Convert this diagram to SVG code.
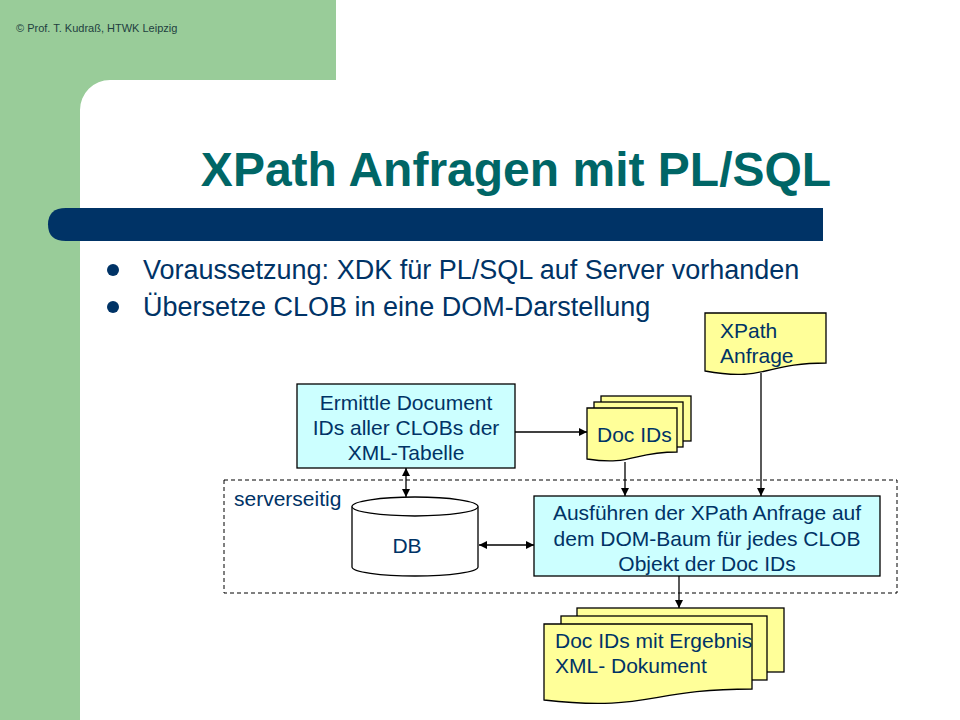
<svg xmlns="http://www.w3.org/2000/svg" width="960" height="720" viewBox="0 0 960 720">
<style>
.t{font-family:"Liberation Sans",Arial,sans-serif;fill:#003366}
.s{font-size:21px}
.box{fill:#ccffff;stroke:#000;stroke-width:1.3}
.doc{fill:#ffff99;stroke:#000;stroke-width:1.3}
.ln{stroke:#000;stroke-width:1.3;fill:none}
</style>
<defs>
<marker id="ah" viewBox="0 0 10 10" refX="10" refY="5" markerWidth="8" markerHeight="8" markerUnits="userSpaceOnUse" orient="auto-start-reverse"><path d="M0,0 L10,5 L0,10 Z" fill="#000"/></marker>
</defs>
<rect width="960" height="720" fill="#fff"/>
<path d="M0,0 H336 V80 H110 A30,30 0 0 0 80,110 V720 H0 Z" fill="#99cc99"/>
<text class="t" x="16" y="32" font-size="11" style="fill:#1f3f3f">© Prof. T. Kudraß, HTWK Leipzig</text>
<text class="t" x="516" y="186" font-size="48" font-weight="bold" text-anchor="middle" style="fill:#006666">XPath Anfragen mit PL/SQL</text>
<path d="M66,208 H823 V241 H66 Q48,241 48,224.5 Q48,208 66,208 Z" fill="#003366"/>
<circle cx="113" cy="270" r="6" fill="#003366"/>
<circle cx="113" cy="307" r="6" fill="#003366"/>
<text class="t" x="143" y="279" font-size="27">Voraussetzung: XDK für PL/SQL auf Server vorhanden</text>
<text class="t" x="143" y="316" font-size="27">Übersetze CLOB in eine DOM-Darstellung</text>

<g id="serverseitig">
<rect x="224" y="480" width="673" height="113" fill="none" stroke="#000" stroke-width="1" stroke-dasharray="4,3"/>
<text class="t s" x="234" y="506">serverseitig</text>
</g>

<g id="xpath-anfrage">
<path class="doc" d="M705,313 H826 V363 C765,363 765,382 705,371 Z"/>
<text class="t s" x="720" y="338">XPath</text>
<text class="t s" x="720" y="363">Anfrage</text>
</g>

<g id="ermittle">
<rect class="box" x="297" y="384" width="218" height="84"/>
<text class="t s" x="406" y="410" text-anchor="middle">Ermittle Document</text>
<text class="t s" x="406" y="435" text-anchor="middle">IDs aller CLOBs der</text>
<text class="t s" x="406" y="460" text-anchor="middle">XML-Tabelle</text>
</g>

<g id="doc-ids">
<rect class="doc" x="601" y="396" width="90" height="45"/>
<rect class="doc" x="594" y="402" width="89" height="45"/>
<path class="doc" d="M587,408 H677 V452 C632,452 632,466 587,459 Z"/>
<text class="t s" x="597" y="442">Doc IDs</text>
</g>

<g id="db">
<path d="M352,506.5 V567 A63,9 0 0 0 478,567 V506.5" fill="#fff" stroke="#000" stroke-width="1.3"/>
<ellipse cx="415" cy="506.5" rx="63" ry="9.5" fill="#fff" stroke="#000" stroke-width="1.3"/>
<text class="t s" x="407" y="553" text-anchor="middle">DB</text>
</g>

<g id="ausfuehren">
<rect class="box" x="534" y="496" width="346" height="80"/>
<text class="t s" x="707" y="520" text-anchor="middle">Ausführen der XPath Anfrage auf</text>
<text class="t s" x="707" y="546" text-anchor="middle">dem DOM-Baum für jedes CLOB</text>
<text class="t s" x="707" y="571" text-anchor="middle">Objekt der Doc IDs</text>
</g>

<g id="ergebnis">
<rect class="doc" x="577" y="608" width="207" height="64"/>
<rect class="doc" x="561" y="616" width="206" height="64"/>
<path class="doc" d="M544,624 H752 V689 C648,689 648,712 544,700 Z"/>
<text class="t s" x="555" y="648">Doc IDs mit Ergebnis</text>
<text class="t s" x="555" y="673">XML- Dokument</text>
</g>

<g id="connectors">
<line class="ln" x1="515" y1="432" x2="587" y2="432" marker-end="url(#ah)"/>
<line class="ln" x1="406" y1="468" x2="406" y2="497" marker-start="url(#ah)" marker-end="url(#ah)"/>
<line class="ln" x1="625" y1="462" x2="625" y2="496" marker-end="url(#ah)"/>
<line class="ln" x1="761" y1="373" x2="761" y2="496" marker-end="url(#ah)"/>
<line class="ln" x1="479" y1="545" x2="534" y2="545" marker-start="url(#ah)" marker-end="url(#ah)"/>
<line class="ln" x1="679" y1="576" x2="679" y2="608" marker-end="url(#ah)"/>
</g>
</svg>
